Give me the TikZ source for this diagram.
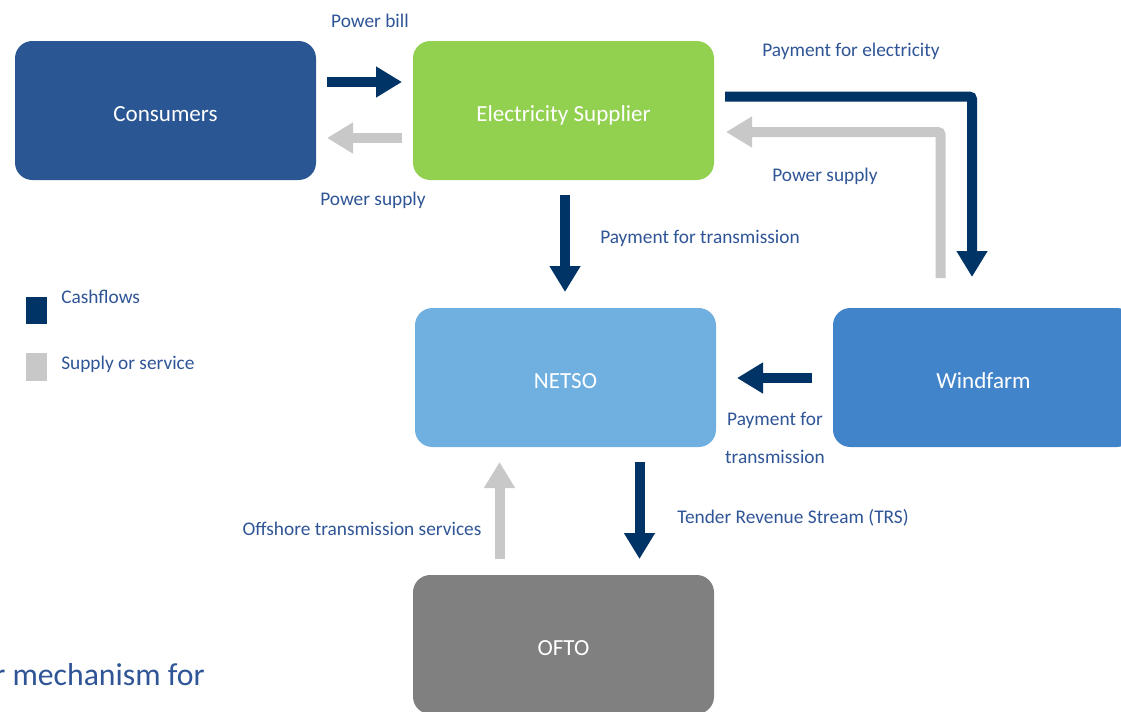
\documentclass[tikz,border=0pt]{standalone}
\usepackage{fontspec}
\setmainfont{Carlito}
\usetikzlibrary{arrows.meta,calc}
\definecolor{cash}{RGB}{0,51,102}
\definecolor{supply}{RGB}{200,200,200}
\definecolor{consumerc}{RGB}{42,87,147}
\definecolor{supplierc}{RGB}{146,208,80}
\definecolor{netsoc}{RGB}{111,176,224}
\definecolor{windc}{RGB}{66,132,202}
\definecolor{oftoc}{RGB}{128,128,128}
\definecolor{labelc}{RGB}{47,85,151}
\begin{document}
\begin{tikzpicture}[x=0.75pt,y=-0.75pt,
  box/.style={draw=none, rounded corners=13pt, text=white,
    font=\fontsize{17.3}{20}\selectfont, text height=16.5pt, text depth=0pt,
    minimum width=225.75pt, minimum height=104.25pt, inner sep=0pt},
  lab/.style={text=labelc, font=\fontsize{14.5}{17}\selectfont, inner sep=0pt},
  flowbase/.style={line width=7.5pt, -{Triangle[length=19.5pt,width=22pt]}},
  cashflow/.style={flowbase, draw=cash},
  supplyflow/.style={flowbase, draw=supply},
  legendsq/.style={draw=none, minimum width=15.75pt, minimum height=20.5pt, inner sep=0pt}
]
\clip (0,0) rectangle (1121,711);
\fill[white] (0,0) rectangle (1121,711);

% boxes
\node[box, fill=consumerc] (cons) at (165.5,110.5) {Consumers};
\node[box, fill=supplierc] (supp) at (563.5,110.5) {Electricity Supplier};
\node[box, fill=netsoc] (netso) at (565.5,377.5) {NETSO};
\node[box, fill=windc] (wind) at (983.5,377.5) {Windfarm};
\node[box, fill=oftoc] (ofto) at (563.5,644.5) {OFTO};

% arrow end points
\coordinate (billS) at (327,82);
\coordinate (billE) at (402,82);
\coordinate (psS) at (402,138);
\coordinate (psE) at (327,138);
\coordinate (peS) at (725,96.5);
\coordinate (peC) at (972,96.5);
\coordinate (peE) at (972,277);
\coordinate (wsS) at (940.5,278);
\coordinate (wsC) at (940.5,132);
\coordinate (wsE) at (726,132);
\coordinate (ptS) at (565,195);
\coordinate (ptE) at (565,292);
\coordinate (wnS) at (812,378);
\coordinate (wnE) at (737,378);
\coordinate (osS) at (499.5,559);
\coordinate (osE) at (499.5,462);
\coordinate (trS) at (639.5,462);
\coordinate (trE) at (639.5,559);

% arrows
\draw[cashflow] (billS) -- (billE);
\draw[supplyflow] (psS) -- (psE);
\draw[cashflow, rounded corners=2pt] (peS) -- (peC) -- (peE);
\draw[supplyflow, rounded corners=2pt] (wsS) -- (wsC) -- (wsE);
\draw[cashflow] (ptS) -- (ptE);
\draw[cashflow] (wnS) -- (wnE);
\draw[supplyflow] (osS) -- (osE);
\draw[cashflow] (trS) -- (trE);

% labels
\node[lab] (lbill) at (370,21) {Power bill};
\node[lab] (lps1) at (373,200) {Power supply};
\node[lab] (lpe) at (851,51) {Payment for electricity};
\node[lab] (lps2) at (825,176) {Power supply};
\node[lab] (lpt) at (700,238) {Payment for transmission};
\node[lab] (lpw1) at (775,420) {Payment for};
\node[lab] (lpw2) at (775,457) {transmission};
\node[lab] (los) at (362,529) {Offshore transmission services};
\node[lab] (ltrs) at (793,518) {Tender Revenue Stream (TRS)};

% legend
\node[legendsq, fill=cash] (sqcash) at (36.5,310.5) {};
\node[legendsq, fill=supply] (sqsupply) at (36.5,367) {};
\node[lab, anchor=west] (lcash) at (61,297) {Cashflows};
\node[lab, anchor=west] (lsupply) at (61,364) {Supply or service};

% cut-off text (as in the reference)
\node[text=labelc, font=\fontsize{23.8}{28}\selectfont, anchor=base west, inner sep=0pt] (mech) at (-6,685) {r mechanism for};
\end{tikzpicture}
\end{document}
